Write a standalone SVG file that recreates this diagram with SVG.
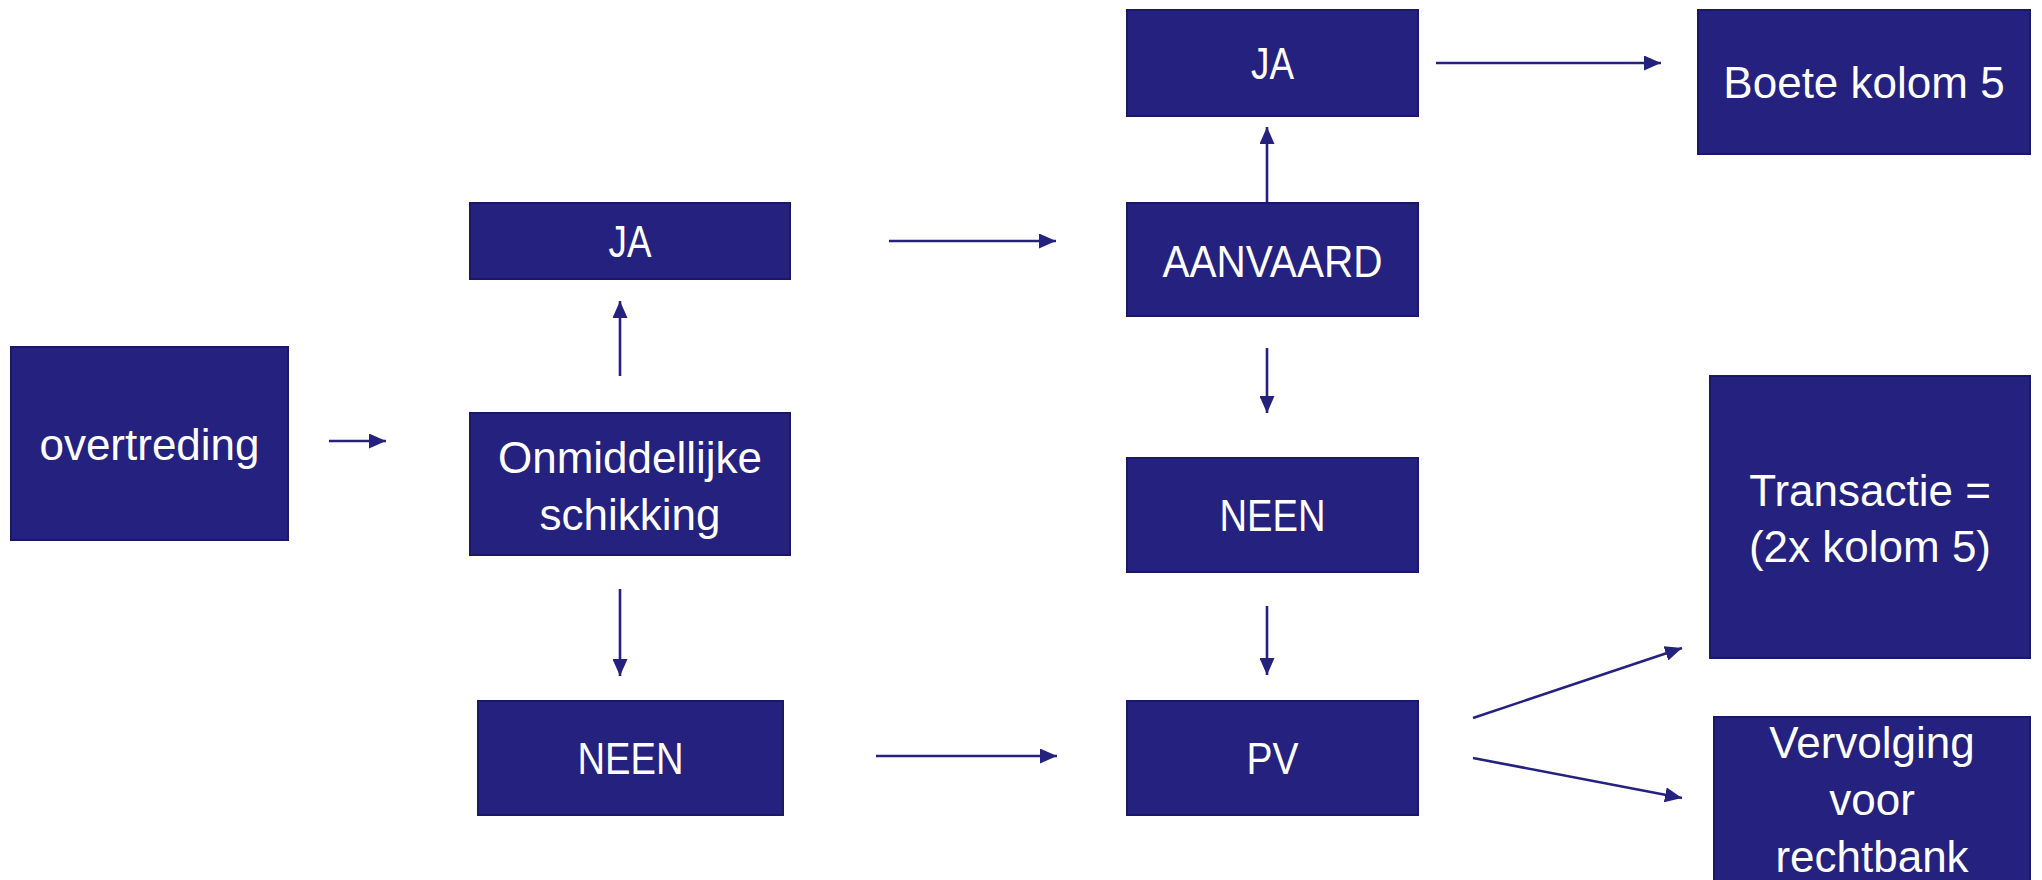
<svg xmlns="http://www.w3.org/2000/svg" width="2042" height="880" viewBox="0 0 2042 880">
<style>
.box{fill:#24217f;stroke:#1b1966;stroke-width:2}
.t{fill:#ffffff;font-family:"Liberation Sans",Arial,sans-serif;font-size:44px;text-anchor:middle}
.c{stroke:#24217f;stroke-width:2.6;fill:none;marker-end:url(#ah)}
</style>
<defs>
<marker id="ah" markerUnits="userSpaceOnUse" markerWidth="17" markerHeight="15" refX="17" refY="7.5" orient="auto">
<path d="M0,0 L17,7.5 L0,15 z" fill="#24217f"/>
</marker>
</defs>
<rect width="2042" height="880" fill="#ffffff"/>
<g id="connectors">
<line class="c" x1="329" y1="441" x2="386" y2="441"/>
<line class="c" x1="620" y1="376" x2="620" y2="301"/>
<line class="c" x1="889" y1="241" x2="1056" y2="241"/>
<line class="c" x1="620" y1="589" x2="620" y2="676"/>
<line class="c" x1="876" y1="756" x2="1057" y2="756"/>
<line class="c" x1="1267" y1="203" x2="1267" y2="127"/>
<line class="c" x1="1436" y1="63" x2="1661" y2="63"/>
<line class="c" x1="1267" y1="348" x2="1267" y2="413"/>
<line class="c" x1="1267" y1="606" x2="1267" y2="675"/>
<line class="c" x1="1473" y1="718" x2="1682" y2="648"/>
<line class="c" x1="1473" y1="758" x2="1682" y2="798"/>
</g>
<g id="overtreding">
<rect class="box" x="11" y="347" width="277" height="193"/>
<text class="t" x="149.5" y="460">overtreding</text>
</g>
<g id="onmiddellijke-schikking">
<rect class="box" x="470" y="413" width="320" height="142"/>
<text class="t" x="630" y="473">Onmiddellijke</text>
<text class="t" x="630" y="530">schikking</text>
</g>
<g id="ja-left">
<rect class="box" x="470" y="203" width="320" height="76"/>
<text class="t" x="630" y="257" textLength="43" lengthAdjust="spacingAndGlyphs">JA</text>
</g>
<g id="neen-left">
<rect class="box" x="478" y="701" width="305" height="114"/>
<text class="t" x="630.5" y="774" textLength="106" lengthAdjust="spacingAndGlyphs">NEEN</text>
</g>
<g id="ja-top">
<rect class="box" x="1127" y="10" width="291" height="106"/>
<text class="t" x="1272.5" y="79" textLength="43" lengthAdjust="spacingAndGlyphs">JA</text>
</g>
<g id="aanvaard">
<rect class="box" x="1127" y="203" width="291" height="113"/>
<text class="t" x="1272.5" y="277" textLength="220" lengthAdjust="spacingAndGlyphs">AANVAARD</text>
</g>
<g id="neen-mid">
<rect class="box" x="1127" y="458" width="291" height="114"/>
<text class="t" x="1272.5" y="531" textLength="106" lengthAdjust="spacingAndGlyphs">NEEN</text>
</g>
<g id="pv">
<rect class="box" x="1127" y="701" width="291" height="114"/>
<text class="t" x="1272.5" y="774" textLength="52" lengthAdjust="spacingAndGlyphs">PV</text>
</g>
<g id="boete">
<rect class="box" x="1698" y="10" width="332" height="144"/>
<text class="t" x="1864" y="98">Boete kolom 5</text>
</g>
<g id="transactie">
<rect class="box" x="1710" y="376" width="320" height="282"/>
<text class="t" x="1870" y="506">Transactie =</text>
<text class="t" x="1870" y="562">(2x kolom 5)</text>
</g>
<g id="vervolging">
<rect class="box" x="1714" y="717" width="316" height="170"/>
<text class="t" x="1872" y="758">Vervolging</text>
<text class="t" x="1872" y="815">voor</text>
<text class="t" x="1872" y="872">rechtbank</text>
</g>
</svg>
